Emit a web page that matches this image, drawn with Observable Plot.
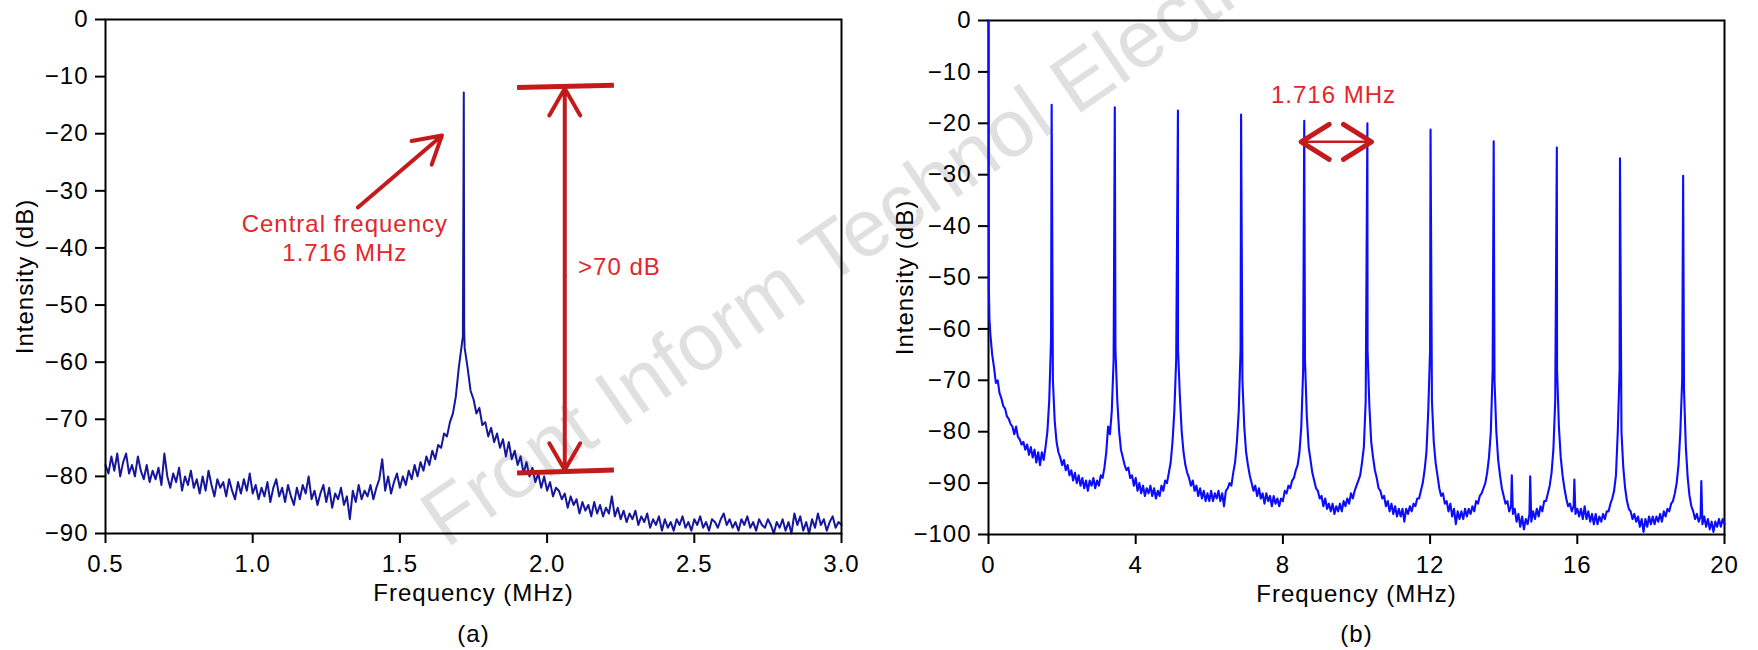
<!DOCTYPE html>
<html>
<head>
<meta charset="utf-8">
<script src="https://cdn.jsdelivr.net/npm/d3@7"></script>
<script src="https://cdn.jsdelivr.net/npm/@observablehq/plot@0.6"></script>
<style>
  html, body { margin: 0; padding: 0; background: #fff; }
  body { width: 1758px; height: 650px; overflow: hidden; position: relative; font-family: "Liberation Sans", Arial, Helvetica, sans-serif; }
  #wm { position: absolute; left: 0; top: 0; z-index: 0; pointer-events: none; }
  #a { position: absolute; left: 0; top: 0; z-index: 1; }
  #b { position: absolute; left: 879px; top: 0; z-index: 1; }
</style>
</head>
<body>
<div id="wm"></div>
<div id="a"></div>
<div id="b"></div>
<script>
// ---------------- Panel (a) data ----------------
const freqStartA = 0.5;
const freqStepA = 0.01;
const intensityA = [
  -78, -79.5, -76.5, -79, -76, -80, -77.5, -76, -79.5, -78,
  -80, -76.5, -79, -80.5, -78, -81, -79, -80.5, -78.5, -81.5,
  -76, -80, -82, -79.5, -81, -78.5, -82.5, -80, -81.5, -79,
  -82, -80.5, -83, -80, -82.5, -79, -81.5, -83.5, -80.5, -82,
  -81, -83.5, -80.5, -82.5, -84, -81, -83, -80.5, -82.5, -79.5,
  -83, -81.5, -84, -82, -83.5, -81, -84.5, -82, -80.5, -83.5,
  -82, -84.5, -81.5, -83.5, -85, -82, -84, -81.5, -83, -80,
  -84, -82.5, -85, -83, -81.5, -84.5, -82, -85.5, -83, -84,
  -82, -85, -83.5, -87.5, -82.5, -84.5, -81.5, -84, -82.5, -83.5,
  -81.5, -84, -82, -80.5, -77, -82.5, -80, -83, -81, -79.5,
  -82, -80, -81.5, -79, -80.5, -78, -80, -77.5, -79, -76.5,
  -78, -75.5, -77, -74.5, -75, -72.5, -73, -70.5, -69, -66,
  -61, -57, -57.5, -61, -65, -66.5, -69, -68, -71, -70.5,
  -73, -71.5, -74, -72.5, -75, -73.5, -76.5, -74, -77, -75.5,
  -78, -76.5, -79.5, -77.5, -80, -78.5, -81, -79.5, -82, -80,
  -82.5, -81, -83.5, -82, -82.5, -84, -83, -85.5, -83.5, -85,
  -84, -86.5, -84.5, -86, -85, -87, -84.5, -86.5, -85, -87,
  -85.5, -86.5, -83.5, -87, -85.5, -87.5, -86, -88, -86.5, -87.5,
  -86, -88.5, -87, -88, -86.5, -89, -87.5, -88.5, -87, -89.5,
  -87.5, -89, -88, -89.5, -87.5, -88.5, -87, -89, -88, -89.5,
  -87.5, -88.5, -87, -89, -88, -89.5, -87.5, -88, -89, -87.5,
  -86.5, -88.5, -87.5, -89, -88, -89.5, -87.5, -88.5, -87, -89,
  -88, -89.5, -87.5, -88.5, -89, -87.5, -88.5, -90, -88, -89,
  -87.5, -89.5, -88, -90, -86.5, -88.5, -87, -89.5, -88, -90,
  -87.5, -89, -86.5, -88.5, -87.5, -89.5, -88, -87, -89, -88,
  -88.5
];
const peakFreqA = [1.714, 1.717, 1.7185];
const peakIntensityA = [-55.5, -12.8, -54.5];

const ticksAX = [0.5, 1.0, 1.5, 2.0, 2.5, 3.0];
const ticksAY = [0, -10, -20, -30, -40, -50, -60, -70, -80, -90];

// ---------------- Panel (b) data ----------------
const freqStartB = 0;
const freqStepB = 0.05;
const intensityB = [
  0, -61, -65, -67.5, -70.5, -70, -72.5, -73.5, -75, -75.5,
  -77, -77.5, -78.5, -79, -80.5, -79, -81, -81.5, -82.5, -82,
  -83.5, -82.5, -84.5, -83, -85, -83.5, -86, -84, -86.5, -84,
  -85.5, -83, -80, -74, -62, -70, -78, -82, -84, -85,
  -86.5, -85.5, -87.5, -86.5, -88.5, -87.5, -89.5, -88, -90, -88.5,
  -90.5, -89, -91, -89.5, -91.5, -89.5, -90.5, -89, -91, -89.5,
  -90.5, -88.5, -89, -87, -84, -79, -80.5, -76, -66, -64,
  -74, -80, -83.5, -85, -86.5, -87.5, -87, -89, -88.5, -90.5,
  -89, -91.5, -90, -92, -90.5, -92.5, -91, -92, -90.5, -92.5,
  -91, -93, -91.5, -92.5, -90.5, -91.5, -89.5, -90, -88, -86,
  -82, -76, -66, -64, -73, -80, -84, -86.5, -88, -89,
  -90.5, -89.5, -91.5, -90.5, -92.5, -91, -93, -91.5, -93.5, -92,
  -93.5, -91.5, -93.5, -92, -93, -91.5, -93.5, -92, -94.5, -91.5,
  -91, -90, -90.5, -88, -86, -82, -76, -64, -70, -79,
  -84, -86.5, -88.5, -90, -91.5, -90.5, -92.5, -91, -93, -92,
  -94, -92, -93.5, -92.5, -94.5, -92.5, -94, -93, -94.5, -93,
  -93.5, -91.5, -92, -90.5, -91, -89.5, -89, -87.5, -86.5, -84,
  -79, -68, -66, -77, -83, -85.5, -88, -89.5, -91, -91.5,
  -93, -92.5, -94.5, -93, -95, -94, -95.5, -94, -96, -94.5,
  -95.5, -94, -95.5, -93.5, -94.5, -93, -94, -92, -93, -91.5,
  -90.5, -89.5, -88.5, -86, -83, -74, -64, -75, -82, -85,
  -87.5, -89, -91, -91.5, -93, -92.5, -94.5, -93.5, -95.5, -94,
  -96, -94.5, -96.5, -95, -96.5, -95, -97.5, -95, -96, -94.5,
  -95.5, -94, -94.5, -93, -93, -91.5, -90, -87.5, -84, -76,
  -64, -74, -82, -86, -88.5, -91, -92.5, -92, -94, -93.5,
  -95.5, -94, -96.5, -95, -98, -95.5, -97, -95.5, -97, -95,
  -96.5, -95, -96, -94.5, -95.5, -93.5, -94, -92.5, -92, -91,
  -90, -88, -85, -80, -68, -70, -80, -85.5, -88.5, -91,
  -92.5, -94, -93.5, -95.5, -94.5, -96, -95, -97.5, -96, -98.5,
  -96.5, -99, -97, -98, -96, -97.5, -95.5, -97, -95, -96.5,
  -94.5, -95.5, -93.5, -93.5, -92, -90.5, -88, -83.5, -74, -68,
  -79, -85, -88.5, -91, -93, -94.5, -94, -95.5, -94.5, -96,
  -95, -96.5, -95, -97, -94.5, -97, -95.5, -97.5, -96, -98,
  -96, -98, -96.5, -97.5, -96, -97, -95.5, -95.5, -94, -93,
  -91.5, -88.5, -80, -68, -80, -87, -91, -93.5, -95, -95.5,
  -97, -96, -97.5, -96.5, -98.5, -97, -99.5, -97, -98.5, -96.5,
  -98, -96.5, -98, -96.5, -97.5, -96, -97.5, -95.5, -96.5, -95,
  -95.5, -94, -93.5, -92, -90, -86.5, -80, -70, -72, -83,
  -89, -92.5, -94.5, -95.5, -97, -96, -97.5, -96.5, -98, -96.5,
  -98.5, -97, -99, -97.5, -99.5, -97.5, -98.5, -97, -98.5, -97,
  -98
];
const harmonicFreqB = [1.716, 3.432, 5.148, 6.864, 8.580, 10.296, 12.012, 13.728, 15.444, 17.160, 18.876];
const harmonicPeakB = [-16.4, -16.9, -17.5, -18.3, -19.5, -20.0, -21.2, -23.5, -24.7, -26.8, -30.2];
const extraFreqB = [0.01, 0.025, 14.22, 14.72, 15.92, 19.37];
const extraIntensityB = [-52, -58, -88.5, -88.7, -89.3, -89.6];

const ticksBX = [0, 4, 8, 12, 16, 20];
const ticksBY = [0, -10, -20, -30, -40, -50, -60, -70, -80, -90, -100];

// ---------------- Annotations (data coordinates) ----------------
const barsA = [
  {x1: 1.898, y1: -11.9, x2: 2.227, y2: -11.5},
  {x1: 1.898, y1: -79.4, x2: 2.227, y2: -78.9}
];
const arrowsA = [
  {x1: 2.06, y1: -45, x2: 2.06, y2: -12.1},
  {x1: 2.06, y1: -45, x2: 2.06, y2: -78.9},
  {x1: 1.357, y1: -32.9, x2: 1.643, y2: -20.3}
];
const centralLabelA = [{x: 1.313, y: -42.2, text: "Central frequency\n1.716 MHz"}];
const rangeLabelA = [{x: 2.105, y: -43.4, text: ">70 dB"}];
const arrowB = {x1: 8.51, x2: 10.42, y: -23.7};
const labelsB = [{x: 9.375, y: -14.5, text: "1.716 MHz"}];

// ---------------- Build series ----------------
const seriesA = intensityA.map((v, i) => ({f: +(freqStartA + i * freqStepA).toFixed(4), v}))
  .concat(peakFreqA.map((f, i) => ({f, v: peakIntensityA[i]})))
  .sort((a, b) => a.f - b.f);
const seriesB = intensityB.map((v, i) => ({f: +(freqStartB + i * freqStepB).toFixed(4), v}))
  .concat(harmonicFreqB.map((f, i) => ({f, v: harmonicPeakB[i]})))
  .concat(extraFreqB.map((f, i) => ({f, v: extraIntensityB[i]})))
  .sort((a, b) => a.f - b.f);

const FONT = "'Liberation Sans', Arial, Helvetica, sans-serif";
const RED_ARROW = "#c41a1c";
const RED_TEXT = "#e3262b";

function axisOpts(extra) {
  return Object.assign({tickSize: 10, fontSize: 24, strokeWidth: 2, color: "black", labelAnchor: "center", labelArrow: "none"}, extra);
}

// Double-headed chevron arrow drawn through the plot's scales
function doubleArrow(a, opts) {
  return (index, scales) => {
    const g = d3.create("svg:g")
      .attr("fill", "none")
      .attr("stroke", opts.stroke)
      .attr("stroke-linecap", "round")
      .attr("stroke-linejoin", "round");
    const x1 = scales.x(a.x1), x2 = scales.x(a.x2), y = scales.y(a.y);
    g.append("line").attr("x1", x1).attr("x2", x2).attr("y1", y).attr("y2", y)
      .attr("stroke-width", opts.shaftWidth);
    const h = opts.halfAngle * Math.PI / 180;
    for (const [tx, dir] of [[x1, -1], [x2, 1]]) {
      const bx = tx - dir * opts.wing * Math.cos(h);
      const dy = opts.wing * Math.sin(h);
      g.append("path")
        .attr("d", `M${bx},${y - dy}L${tx},${y}L${bx},${y + dy}`)
        .attr("stroke-width", opts.headWidth);
    }
    return g.node();
  };
}

// ---------------- Panel (a) ----------------
const chartA = Plot.plot({
  width: 879,
  height: 650,
  marginLeft: 105,
  marginRight: 38,
  marginTop: 19,
  marginBottom: 117,
  style: {fontFamily: FONT, background: "transparent", letterSpacing: "1px", color: "black"},
  x: {domain: [0.5, 3.0]},
  y: {domain: [-90, 0]},
  marks: [
    Plot.line(seriesA, {x: "f", y: "v", stroke: "#16169c", strokeWidth: 2, strokeLinejoin: "round"}),
    Plot.frame({stroke: "black", strokeWidth: 2}),
    Plot.axisX(axisOpts({ticks: ticksAX, tickFormat: d3.format(".1f"), tickPadding: 11, label: "Frequency (MHz)", labelOffset: 67})),
    Plot.axisY(axisOpts({ticks: ticksAY, tickPadding: 7, label: "Intensity (dB)", labelOffset: 90})),
    Plot.link(barsA, {x1: "x1", y1: "y1", x2: "x2", y2: "y2", stroke: RED_ARROW, strokeWidth: 5, strokeLinecap: "butt"}),
    Plot.arrow(arrowsA, {x1: "x1", y1: "y1", x2: "x2", y2: "y2", stroke: RED_ARROW, strokeWidth: 4, headLength: 11.6, headAngle: 60}),
    Plot.text(centralLabelA, {x: "x", y: "y", text: "text", textAnchor: "middle", fill: RED_TEXT, fontSize: 24, lineHeight: 1.17, lineAnchor: "bottom"}),
    Plot.text(rangeLabelA, {x: "x", y: "y", text: "text", textAnchor: "start", fill: RED_TEXT, fontSize: 24, lineAnchor: "middle"}),
    Plot.text(["(a)"], {text: (d) => d, frameAnchor: "bottom", dy: 108, lineAnchor: "bottom", fontSize: 24, fill: "black"})
  ]
});
document.getElementById("a").appendChild(chartA);

// ---------------- Panel (b) ----------------
const chartB = Plot.plot({
  width: 879,
  height: 650,
  marginLeft: 109,
  marginRight: 34,
  marginTop: 20,
  marginBottom: 116,
  style: {fontFamily: FONT, background: "transparent", letterSpacing: "1px", color: "black"},
  x: {domain: [0, 20]},
  y: {domain: [-100, 0]},
  marks: [
    Plot.frame({stroke: "black", strokeWidth: 2}),
    Plot.line(seriesB, {x: "f", y: "v", stroke: "#0c0cff", strokeWidth: 2.1, strokeLinejoin: "round"}),
    Plot.axisX(axisOpts({ticks: ticksBX, tickPadding: 11, label: "Frequency (MHz)", labelOffset: 67})),
    Plot.axisY(axisOpts({ticks: ticksBY, tickPadding: 7, label: "Intensity (dB)", labelOffset: 93})),
    doubleArrow(arrowB, {stroke: RED_ARROW, shaftWidth: 2.5, headWidth: 5, wing: 33, halfAngle: 32}),
    Plot.text(labelsB, {x: "x", y: "y", text: "text", fill: RED_TEXT, fontSize: 24, lineAnchor: "middle"}),
    Plot.text(["(b)"], {text: (d) => d, frameAnchor: "bottom", dy: 107, lineAnchor: "bottom", fontSize: 24, fill: "black"})
  ]
});
document.getElementById("b").appendChild(chartB);

// ---------------- Watermark ----------------
const wm = d3.select("#wm").append("svg").attr("width", 1758).attr("height", 650);
wm.append("text")
  .attr("transform", "translate(446,549) rotate(-34.5)")
  .attr("font-family", FONT)
  .attr("font-size", 81)
  .attr("fill", "#e0e0e0")
  .text("Front Inform Technol Electron");
</script>
</body>
</html>
